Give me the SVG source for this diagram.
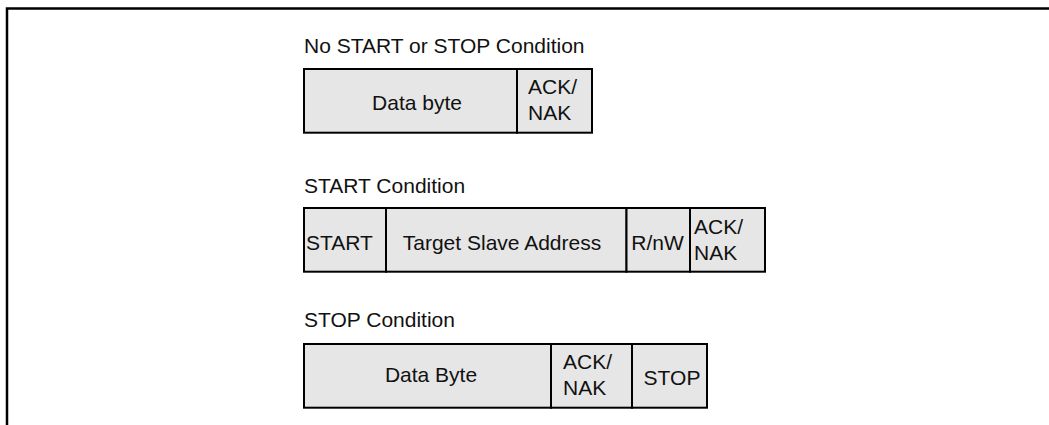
<svg xmlns="http://www.w3.org/2000/svg" width="1049" height="425" viewBox="0 0 1049 425">
  <style>
    .frame { fill: none; stroke: #000; stroke-width: 2.5; }
    .cell { fill: #e6e6e6; stroke: #000; stroke-width: 2; }
    text { font-family: "Liberation Sans", Arial, sans-serif; font-size: 21px; fill: #111; }
    .mid { text-anchor: middle; }
  </style>
  <rect width="1049" height="425" fill="#fff"/>
  <g id="frame">
    <path class="frame" d="M7,425 V8.5 H1049"/>
  </g>

  <g id="no-start-stop">
    <text x="304" y="53">No START or STOP Condition</text>
    <g id="nss-data">
      <rect class="cell" x="304" y="69" width="213" height="63.7"/>
      <text class="mid" x="417" y="109.5">Data byte</text>
    </g>
    <g id="nss-ack">
      <rect class="cell" x="517" y="69" width="75" height="63.7"/>
      <text x="528" y="93.5">ACK/</text>
      <text x="528" y="119.5">NAK</text>
    </g>
  </g>

  <g id="start-condition">
    <text x="304" y="192.5">START Condition</text>
    <g id="sc-start">
      <rect class="cell" x="304" y="208" width="82" height="63.7"/>
      <text x="306" y="250">START</text>
    </g>
    <g id="sc-address">
      <rect class="cell" x="386" y="208" width="240.5" height="63.7"/>
      <text class="mid" x="502" y="250">Target Slave Address</text>
    </g>
    <g id="sc-rnw">
      <rect class="cell" x="626.5" y="208" width="63.5" height="63.7"/>
      <text class="mid" x="657.5" y="250">R/nW</text>
    </g>
    <g id="sc-ack">
      <rect class="cell" x="690" y="208" width="75" height="63.7"/>
      <text x="694" y="233.5">ACK/</text>
      <text x="694" y="259.5">NAK</text>
    </g>
  </g>

  <g id="stop-condition">
    <text x="304" y="327">STOP Condition</text>
    <g id="st-data">
      <rect class="cell" x="304" y="344" width="247" height="63.7"/>
      <text class="mid" x="431" y="382">Data Byte</text>
    </g>
    <g id="st-ack">
      <rect class="cell" x="551" y="344" width="81" height="63.7"/>
      <text x="563" y="369">ACK/</text>
      <text x="563" y="394.5">NAK</text>
    </g>
    <g id="st-stop">
      <rect class="cell" x="632" y="344" width="75" height="63.7"/>
      <text class="mid" x="672" y="384.5">STOP</text>
    </g>
  </g>
</svg>
